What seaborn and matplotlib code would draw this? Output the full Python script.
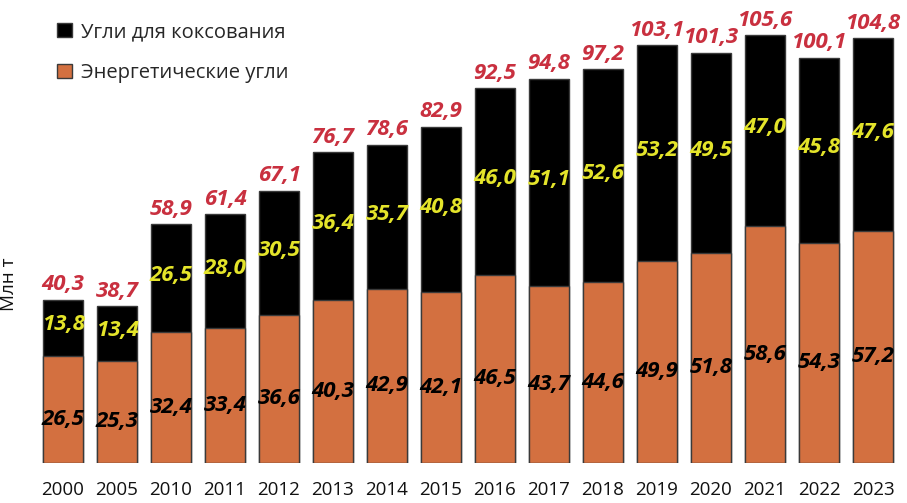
import matplotlib
matplotlib.use("Agg")
import matplotlib.pyplot as plt
from matplotlib.patches import Patch
import seaborn as sns
import pandas as pd

# ---------- data (Млн т) ----------
years = ['2000', '2005', '2010', '2011', '2012', '2013', '2014', '2015',
         '2016', '2017', '2018', '2019', '2020', '2021', '2022', '2023']
energy = [26.5, 25.3, 32.4, 33.4, 36.6, 40.3, 42.9, 42.1,
          46.5, 43.7, 44.6, 49.9, 51.8, 58.6, 54.3, 57.2]
coking = [13.8, 13.4, 26.5, 28.0, 30.5, 36.4, 35.7, 40.8,
          46.0, 51.1, 52.6, 53.2, 49.5, 47.0, 45.8, 47.6]
totals = [40.3, 38.7, 58.9, 61.4, 67.1, 76.7, 78.6, 82.9,
          92.5, 94.8, 97.2, 103.1, 101.3, 105.6, 100.1, 104.8]

df = pd.DataFrame({'year': years, 'energy': energy,
                   'coking': coking, 'total': totals})

ORANGE = '#D37040'
RED = '#C9303F'
YELLOW = '#E4E42A'
EDGE = '#3a3a3a'

sns.set_style('white')
plt.rcParams['font.family'] = ['Open Sans', 'DejaVu Sans']

fig = plt.figure(figsize=(9.07, 5.03), dpi=100)
ax = fig.add_axes([36 / 907, 40 / 503, 864 / 907, 463 / 503])

# ---------- stacked bars: total in black, energy coal over it ----------
sns.barplot(data=df, x='year', y='total', color='black', saturation=1,
            width=0.74, edgecolor=EDGE, linewidth=1, ax=ax)
sns.barplot(data=df, x='year', y='energy', color=ORANGE, saturation=1,
            width=0.74, edgecolor=EDGE, linewidth=1, ax=ax)

val_font = dict(family=['Open Sans', 'DejaVu Sans'], fontsize=16,
                fontweight='bold', fontstyle='italic')

for i in range(len(years)):
    e, c, t = energy[i], coking[i], totals[i]
    ax.annotate(f'{e:.1f}'.replace('.', ','), (i, e / 2),
                xytext=(0, -7), textcoords='offset points',
                ha='center', va='center', color='black', **val_font)
    ax.annotate(f'{c:.1f}'.replace('.', ','), (i, e + c / 2),
                xytext=(0, 2), textcoords='offset points',
                ha='center', va='center', color=YELLOW, **val_font)
    ax.annotate(f'{t:.1f}'.replace('.', ','), (i, t),
                xytext=(0, 7), textcoords='offset points',
                ha='center', va='baseline', color=RED, **val_font)

ax.set_xlim(-0.5, len(years) - 0.5)
ax.set_ylim(0, 114.3)
sns.despine(ax=ax, left=True, bottom=True)
ax.set_yticks([])
ax.set_xlabel('')
ax.set_ylabel('Млн т', fontsize=13.5, color='#111111')
ax.yaxis.set_label_coords(-0.021, 0.385)
ax.tick_params(axis='x', length=0, pad=13)
for lab in ax.get_xticklabels():
    lab.set_family(['Liberation Sans Narrow', 'Open Sans'])
    lab.set_fontsize(13.5)
    lab.set_color('#111111')

handles = [Patch(facecolor='black', edgecolor=EDGE, linewidth=1),
           Patch(facecolor=ORANGE, edgecolor=EDGE, linewidth=1)]
ax.legend(handles, ['Угли для коксования', 'Энергетические угли'],
          loc='upper left', bbox_to_anchor=(57 / 907, 1 - 22 / 503),
          bbox_transform=fig.transFigure, frameon=False, borderpad=0,
          borderaxespad=0, fontsize=14.5, handlelength=0.75,
          handleheight=0.75, handletextpad=0.45, labelspacing=1.05)

fig.savefig('out.png', dpi=100)
